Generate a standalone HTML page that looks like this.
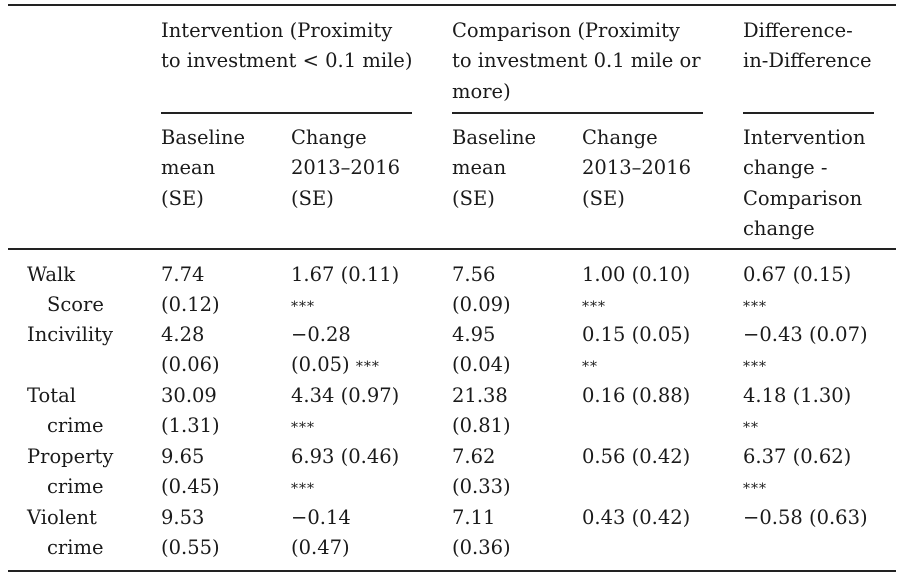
<!DOCTYPE html>
<html><head><meta charset="utf-8">
<style>
body{margin:0;width:904px;height:580px;background:#fff;position:relative;overflow:hidden;font-family:"DejaVu Serif","Liberation Serif",serif;font-size:19.5px;color:#1a1a1a}
.t{position:absolute;line-height:30.3px;white-space:nowrap}
.r{position:absolute;background:#222}
.ind{padding-left:20px}
.s{font-size:14px;letter-spacing:1px}
</style></head><body>
<div class="r" style="left:8px;top:4px;width:888px;height:2px"></div>
<div class="t" style="left:161px;top:16px">Intervention (Proximity<br>to investment &lt; 0.1 mile)</div>
<div class="t" style="left:452px;top:16px">Comparison (Proximity<br>to investment 0.1 mile or<br>more)</div>
<div class="t" style="left:743px;top:16px">Difference-<br>in-Difference</div>
<div class="r" style="left:161px;top:112px;width:251px;height:1.5px"></div>
<div class="r" style="left:452px;top:112px;width:251px;height:1.5px"></div>
<div class="r" style="left:743px;top:112px;width:131px;height:1.5px"></div>
<div class="t" style="left:161px;top:123px">Baseline<br>mean<br>(SE)</div>
<div class="t" style="left:291px;top:123px">Change<br>2013–2016<br>(SE)</div>
<div class="t" style="left:452px;top:123px">Baseline<br>mean<br>(SE)</div>
<div class="t" style="left:582px;top:123px">Change<br>2013–2016<br>(SE)</div>
<div class="t" style="left:743px;top:123px">Intervention<br>change -<br>Comparison<br>change</div>
<div class="r" style="left:8px;top:248px;width:888px;height:2px"></div>

<div class="t" style="left:27px;top:260px">Walk<br><span class="ind">Score</span></div>
<div class="t" style="left:161px;top:260px">7.74<br>(0.12)</div>
<div class="t" style="left:291px;top:260px">1.67 (0.11)<br><span class="s">***</span></div>
<div class="t" style="left:452px;top:260px">7.56<br>(0.09)</div>
<div class="t" style="left:582px;top:260px">1.00 (0.10)<br><span class="s">***</span></div>
<div class="t" style="left:743px;top:260px">0.67 (0.15)<br><span class="s">***</span></div>

<div class="t" style="left:27px;top:320px">Incivility</div>
<div class="t" style="left:161px;top:320px">4.28<br>(0.06)</div>
<div class="t" style="left:291px;top:320px">−0.28<br>(0.05) <span class="s">***</span></div>
<div class="t" style="left:452px;top:320px">4.95<br>(0.04)</div>
<div class="t" style="left:582px;top:320px">0.15 (0.05)<br><span class="s">**</span></div>
<div class="t" style="left:743px;top:320px">−0.43 (0.07)<br><span class="s">***</span></div>

<div class="t" style="left:27px;top:381px">Total<br><span class="ind">crime</span></div>
<div class="t" style="left:161px;top:381px">30.09<br>(1.31)</div>
<div class="t" style="left:291px;top:381px">4.34 (0.97)<br><span class="s">***</span></div>
<div class="t" style="left:452px;top:381px">21.38<br>(0.81)</div>
<div class="t" style="left:582px;top:381px">0.16 (0.88)</div>
<div class="t" style="left:743px;top:381px">4.18 (1.30)<br><span class="s">**</span></div>

<div class="t" style="left:27px;top:442px">Property<br><span class="ind">crime</span></div>
<div class="t" style="left:161px;top:442px">9.65<br>(0.45)</div>
<div class="t" style="left:291px;top:442px">6.93 (0.46)<br><span class="s">***</span></div>
<div class="t" style="left:452px;top:442px">7.62<br>(0.33)</div>
<div class="t" style="left:582px;top:442px">0.56 (0.42)</div>
<div class="t" style="left:743px;top:442px">6.37 (0.62)<br><span class="s">***</span></div>

<div class="t" style="left:27px;top:503px">Violent<br><span class="ind">crime</span></div>
<div class="t" style="left:161px;top:503px">9.53<br>(0.55)</div>
<div class="t" style="left:291px;top:503px">−0.14<br>(0.47)</div>
<div class="t" style="left:452px;top:503px">7.11<br>(0.36)</div>
<div class="t" style="left:582px;top:503px">0.43 (0.42)</div>
<div class="t" style="left:743px;top:503px">−0.58 (0.63)</div>

<div class="r" style="left:8px;top:570px;width:888px;height:2px"></div>
</body></html>
